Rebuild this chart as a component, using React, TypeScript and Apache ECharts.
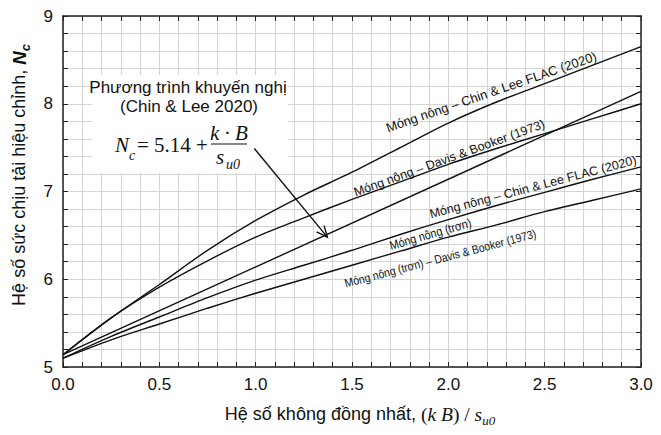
import React, { useEffect, useRef } from "react";
import * as echarts from "echarts";

// ---- data ----
const xValues = [0, 0.25, 0.5, 0.75, 1.0, 1.25, 1.5, 1.75, 2.0, 2.25, 2.5, 2.75, 3.0];
const roughChinLee = [5.14, 5.56, 5.94, 6.33, 6.67, 6.96, 7.22, 7.5, 7.78, 8.02, 8.23, 8.44, 8.65];
const roughDavisBooker = [5.14, 5.56, 5.91, 6.21, 6.48, 6.7, 6.91, 7.11, 7.31, 7.49, 7.66, 7.83, 8.0];
const smoothChinLee = [5.1, 5.35, 5.57, 5.79, 5.99, 6.16, 6.33, 6.51, 6.68, 6.84, 6.99, 7.14, 7.28];
const smoothDavisBooker = [5.1, 5.31, 5.49, 5.67, 5.84, 6.0, 6.16, 6.32, 6.48, 6.62, 6.77, 6.9, 7.03];
const recommendedX = [0, 3];
const recommendedY = [5.14, 8.14];

const xTicks = [0, 0.5, 1.0, 1.5, 2.0, 2.5, 3.0];
const yTicks = [5, 6, 7, 8, 9];

// curve labels: text, anchor (data coords), angle (deg), font size, horizontal squeeze
const curveLabels = [
  { text: "Móng nông – Chin & Lee FLAC (2020)", at: [2.223, 8.134], angle: 19, size: 13, squeeze: 1 },
  { text: "Móng nông – Davis & Booker (1973)", at: [2.005, 7.38], angle: 20, size: 12.5, squeeze: 1 },
  { text: "Móng nông – Chin & Lee FLAC (2020)", at: [2.44, 7.05], angle: 14.8, size: 12.5, squeeze: 1 },
  { text: "Móng nông (trơn)", at: [1.906, 6.52], angle: 16, size: 12.5, squeeze: 0.87 },
  { text: "Móng nông (trơn) – Davis & Booker (1973)", at: [1.958, 6.238], angle: 14.7, size: 12, squeeze: 0.87 },
];
const arrowFrom = [0.993, 7.49];
const arrowTo = [1.372, 6.48];

const zip = (xs: number[], ys: number[]) => xs.map((x, i) => [x, ys[i]]);

const SANS = "Liberation Sans, Arial, sans-serif";
const SERIF = "Liberation Serif, Times New Roman, serif";
const INK = "#111";

export default function App() {
  const ref = useRef<HTMLDivElement>(null);

  useEffect(() => {
    if (!ref.current) return;
    const chart = echarts.init(ref.current, null, { renderer: "svg" });

    const tickCommon = {
      axisLine: { show: true, onZero: false, lineStyle: { color: "#222", width: 1.5 } },
      axisTick: { show: true, inside: true, length: 5, lineStyle: { color: "#222", width: 1 } },
      minorTick: { show: true, splitNumber: 5, length: 5, lineStyle: { color: "#222", width: 1 } },
    };
    const gridLine = { show: true, lineStyle: { color: "#d4d4d4", width: 1 } };

    const lineSeries = (name: string, data: number[][]) => ({
      name,
      type: "line",
      data,
      smooth: 0.3,
      symbol: "none",
      lineStyle: { color: INK, width: 1.4 },
      z: 3,
    });

    chart.setOption({
      animation: false,
      backgroundColor: "#fff",
      grid: { left: 63, right: 20, top: 16, bottom: 68 },
      xAxis: [
        {
          type: "value",
          min: xTicks[0],
          max: xTicks[xTicks.length - 1],
          interval: xTicks[1] - xTicks[0],
          ...tickCommon,
          axisLabel: {
            formatter: (v: number) => v.toFixed(1),
            fontSize: 17,
            color: INK,
            fontFamily: SANS,
            margin: 9,
          },
          splitLine: gridLine,
          minorSplitLine: gridLine,
        },
        {
          type: "value",
          position: "top",
          min: xTicks[0],
          max: xTicks[xTicks.length - 1],
          interval: xTicks[1] - xTicks[0],
          ...tickCommon,
          axisLabel: { show: false },
          splitLine: { show: false },
        },
      ],
      yAxis: [
        {
          type: "value",
          min: yTicks[0],
          max: yTicks[yTicks.length - 1],
          interval: yTicks[1] - yTicks[0],
          ...tickCommon,
          axisLabel: { fontSize: 17, color: INK, fontFamily: SANS, margin: 10 },
          splitLine: gridLine,
          minorSplitLine: gridLine,
        },
        {
          type: "value",
          position: "right",
          min: yTicks[0],
          max: yTicks[yTicks.length - 1],
          interval: yTicks[1] - yTicks[0],
          ...tickCommon,
          axisLabel: { show: false },
          splitLine: { show: false },
        },
      ],
      series: [
        lineSeries("Móng nông – Chin & Lee FLAC (2020)", zip(xValues, roughChinLee)),
        lineSeries("Móng nông – Davis & Booker (1973)", zip(xValues, roughDavisBooker)),
        lineSeries("Phương trình khuyến nghị", zip(recommendedX, recommendedY)),
        lineSeries("Móng nông (trơn) – Chin & Lee FLAC (2020)", zip(xValues, smoothChinLee)),
        lineSeries("Móng nông (trơn) – Davis & Booker (1973)", zip(xValues, smoothDavisBooker)),
      ],
    });

    const px = (p: number[]) => chart.convertToPixel({ gridIndex: 0 }, p) as number[];

    const graphics: any[] = [];

    // curve labels
    curveLabels.forEach((l) => {
      const [x, y] = px(l.at);
      graphics.push({
        type: "text",
        x,
        y,
        rotation: (l.angle * Math.PI) / 180,
        scaleX: l.squeeze,
        z: 20,
        style: {
          text: l.text,
          fontSize: l.size,
          fontFamily: SANS,
          fill: INK,
          align: "center",
          verticalAlign: "middle",
        },
      });
    });

    // annotation box
    graphics.push({
      type: "rect",
      z: 10,
      shape: { x: 92, y: 75, width: 196, height: 98 },
      style: { fill: "#fff" },
    });
    graphics.push({
      type: "text",
      x: 188,
      y: 87,
      z: 20,
      style: { text: "Phương trình khuyến nghị", fontSize: 17, fontFamily: SANS, fill: INK, align: "center", verticalAlign: "middle" },
    });
    graphics.push({
      type: "text",
      x: 189,
      y: 106,
      z: 20,
      style: { text: "(Chin & Lee 2020)", fontSize: 17, fontFamily: SANS, fill: INK, align: "center", verticalAlign: "middle" },
    });
    // formula
    graphics.push({
      type: "text",
      x: 115,
      y: 145,
      z: 20,
      style: { text: "N", fontSize: 21, fontFamily: SERIF, fontStyle: "italic", fill: INK, align: "left", verticalAlign: "middle" },
    });
    graphics.push({
      type: "text",
      x: 129,
      y: 155,
      z: 20,
      style: { text: "c", fontSize: 14, fontFamily: SERIF, fontStyle: "italic", fill: INK, align: "left", verticalAlign: "middle" },
    });
    graphics.push({
      type: "text",
      x: 137,
      y: 145,
      z: 20,
      style: { text: "= 5.14 +", fontSize: 21, fontFamily: SERIF, fill: INK, align: "left", verticalAlign: "middle" },
    });
    graphics.push({
      type: "text",
      x: 229,
      y: 133,
      z: 20,
      style: { text: "k · B", fontSize: 21, fontFamily: SERIF, fontStyle: "italic", fill: INK, align: "center", verticalAlign: "middle" },
    });
    graphics.push({
      type: "line",
      z: 20,
      shape: { x1: 211, y1: 144, x2: 247, y2: 144 },
      style: { stroke: INK, lineWidth: 1.2 },
    });
    graphics.push({
      type: "text",
      x: 216,
      y: 157,
      z: 20,
      style: { text: "s", fontSize: 21, fontFamily: SERIF, fontStyle: "italic", fill: INK, align: "left", verticalAlign: "middle" },
    });
    graphics.push({
      type: "text",
      x: 226,
      y: 164,
      z: 20,
      style: { text: "u0", fontSize: 14, fontFamily: SERIF, fontStyle: "italic", fill: INK, align: "left", verticalAlign: "middle" },
    });

    // arrow
    const [ax1, ay1] = px(arrowFrom);
    const [ax2, ay2] = px(arrowTo);
    const ang = Math.atan2(ay2 - ay1, ax2 - ax1);
    const head = 12;
    const spread = (24 * Math.PI) / 180;
    graphics.push({
      type: "line",
      z: 20,
      shape: { x1: ax1, y1: ay1, x2: ax2, y2: ay2 },
      style: { stroke: INK, lineWidth: 1.4 },
    });
    graphics.push({
      type: "polyline",
      z: 20,
      shape: {
        points: [
          [ax2 - head * Math.cos(ang - spread), ay2 - head * Math.sin(ang - spread)],
          [ax2, ay2],
          [ax2 - head * Math.cos(ang + spread), ay2 - head * Math.sin(ang + spread)],
        ],
      },
      style: { stroke: INK, lineWidth: 1.4, fill: null },
    });

    // axis titles
    graphics.push({
      type: "text",
      x: 360,
      y: 414,
      z: 20,
      style: {
        text: "{a|Hệ số không đồng nhất, }{b|(}{i|k B}{b|) / }{i|s}{s|u0}",
        align: "center",
        verticalAlign: "middle",
        rich: {
          a: { fontSize: 18, fontFamily: SANS, fill: INK, lineHeight: 26, verticalAlign: "middle" },
          b: { fontSize: 19.5, fontFamily: SERIF, fill: INK, lineHeight: 26, verticalAlign: "middle" },
          i: { fontSize: 19.5, fontFamily: SERIF, fontStyle: "italic", fill: INK, lineHeight: 26, verticalAlign: "middle" },
          s: { fontSize: 13, fontFamily: SERIF, fontStyle: "italic", fill: INK, lineHeight: 26, verticalAlign: "bottom" },
        },
      },
    });
    graphics.push({
      type: "text",
      x: 19,
      y: 175,
      rotation: Math.PI / 2,
      z: 20,
      style: {
        text: "{a|Hệ số sức chịu tải hiệu chỉnh, }{n|N}{s|c}",
        align: "center",
        verticalAlign: "middle",
        rich: {
          a: { fontSize: 18, fontFamily: SANS, fill: INK, lineHeight: 26, verticalAlign: "middle" },
          n: { fontSize: 18.5, fontFamily: SANS, fontStyle: "italic", fontWeight: "bold", fill: INK, lineHeight: 26, verticalAlign: "middle" },
          s: { fontSize: 13, fontFamily: SANS, fontStyle: "italic", fontWeight: "bold", fill: INK, lineHeight: 26, verticalAlign: "bottom" },
        },
      },
    });

    chart.setOption({ graphic: graphics });

    return () => chart.dispose();
  }, []);

  return (
    <div
      ref={ref}
      style={{ position: "fixed", left: 0, top: 0, width: 661, height: 435, background: "#fff" }}
    />
  );
}
